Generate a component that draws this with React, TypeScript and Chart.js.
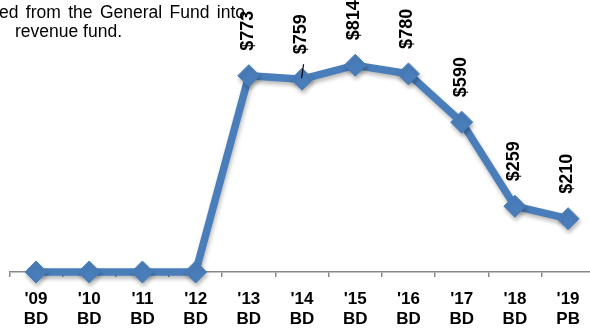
import React, { useEffect, useRef } from "react";
import { Chart, registerables } from "chart.js";

Chart.register(...registerables);

const years = ["'09", "'10", "'11", "'12", "'13", "'14", "'15", "'16", "'17", "'18", "'19"];
const phases = ["BD", "BD", "BD", "BD", "BD", "BD", "BD", "BD", "BD", "BD", "PB"];
const values = [0, 0, 0, 0, 773, 759, 814, 780, 590, 259, 210];
const noteLines = ["ed from the General Fund into", "revenue fund."];
const leaderLineIndex = 5;

const BLUE = "#4A7EBB";
const FONT = "'Liberation Sans', Arial, sans-serif";

export default function App() {
  const ref = useRef<HTMLCanvasElement | null>(null);

  useEffect(() => {
    if (!ref.current) return;
    const labels = years.map((y, i) => [y, phases[i]]);

    const shadowPlugin = {
      id: "shadow",
      beforeDatasetsDraw(chart: any) {
        const ctx = chart.ctx;
        ctx.save();
        ctx.shadowColor = "rgba(0,0,0,0.28)";
        ctx.shadowBlur = 4;
        ctx.shadowOffsetX = 1;
        ctx.shadowOffsetY = 3;
      },
      afterDatasetsDraw(chart: any) {
        chart.ctx.restore();
      },
    };

    const drawJustified = (ctx: CanvasRenderingContext2D, text: string, x0: number, x1: number, y: number) => {
      const words = text.split(" ");
      const total = words.reduce((s, w) => s + ctx.measureText(w).width, 0);
      const gap = (x1 - x0 - total) / (words.length - 1);
      let x = x0;
      words.forEach((w) => {
        ctx.fillText(w, x, y);
        x += ctx.measureText(w).width + gap;
      });
    };

    const labelPlugin = {
      id: "valueLabels",
      afterDraw(chart: any) {
        const ctx = chart.ctx;
        const meta = chart.getDatasetMeta(0);
        ctx.save();
        ctx.fillStyle = "#000";
        ctx.font = `bold 18px ${FONT}`;
        meta.data.forEach((pt: any, i: number) => {
          const v = values[i];
          if (!v) return;
          ctx.save();
          ctx.translate(pt.x + 4, pt.y - 25);
          ctx.rotate(-Math.PI / 2);
          ctx.textAlign = "left";
          ctx.textBaseline = "alphabetic";
          ctx.fillText("$" + v, 0, 0);
          ctx.restore();
          if (i === leaderLineIndex) {
            ctx.beginPath();
            ctx.strokeStyle = "#000";
            ctx.lineWidth = 1.2;
            ctx.moveTo(pt.x + 1.5, pt.y - 15);
            ctx.lineTo(pt.x - 0.5, pt.y - 1);
            ctx.stroke();
          }
        });
        // note text box (clipped at the left edge)
        ctx.font = `17.5px ${FONT}`;
        ctx.textAlign = "left";
        ctx.textBaseline = "alphabetic";
        drawJustified(ctx, noteLines[0], -1, 245, 18);
        ctx.fillText(noteLines[1], 15, 37);
        ctx.restore();
      },
    };

    const chart = new Chart(ref.current, {
      type: "line",
      data: {
        labels,
        datasets: [
          {
            data: values,
            borderColor: BLUE,
            backgroundColor: BLUE,
            borderWidth: 7.5,
            pointStyle: "rectRot",
            pointRadius: 11,
            pointBorderWidth: 1,
            pointBackgroundColor: BLUE,
            pointBorderColor: BLUE,
            tension: 0,
            clip: false as any,
          },
        ],
      },
      options: {
        animation: false,
        responsive: false,
        layout: { autoPadding: false, padding: { left: 9.4, right: 5.3, top: 18, bottom: 0 } },
        plugins: { legend: { display: false }, tooltip: { enabled: false } },
        scales: {
          x: {
            type: "category",
            offset: true,
            afterFit(scale: any) {
              scale.height = 58;
              scale.paddingLeft = 0;
              scale.paddingRight = 0;
            },
            grid: {
              display: true,
              drawOnChartArea: false,
              drawTicks: true,
              tickLength: 5,
              color: "#888",
              lineWidth: 1.5,
              offset: true,
            },
            border: { display: true, color: "#888", width: 1.5 },
            ticks: {
              color: "#000",
              font: { family: FONT, size: 17, weight: "bold", lineHeight: 20 / 17 },
              padding: 12,
              maxRotation: 0,
              minRotation: 0,
              autoSkip: false,
            },
          },
          y: {
            display: false,
            min: 0,
            max: 1000,
          },
        },
      },
      plugins: [shadowPlugin, labelPlugin],
    });
    return () => chart.destroy();
  }, []);

  return (
    <div style={{ position: "fixed", left: 0, top: 0, width: 590, height: 330, overflow: "hidden", background: "#fff" }}>
      <canvas ref={ref} width={600} height={330} style={{ display: "block", width: 600, height: 330 }} />
    </div>
  );
}
